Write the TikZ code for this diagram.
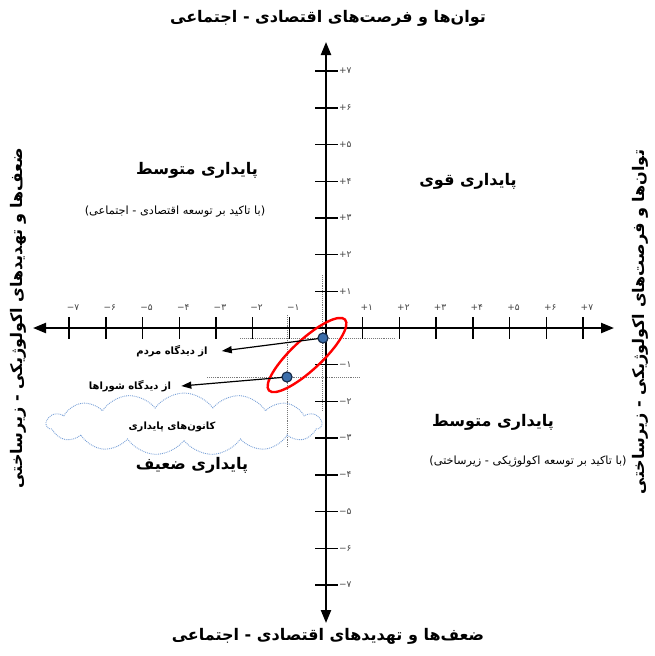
\documentclass[tikz,border=0pt]{standalone}
\usepackage{fontspec}
\usetikzlibrary{shapes.symbols,shapes.geometric,arrows.meta}
\TeXXeTstate=1
\newfontfamily\fa[Script=Arabic]{DejaVu Sans}
\newfontfamily\digitfont{DejaVu Sans}
\definecolor{ptblue}{RGB}{60,110,170}
\definecolor{ptdark}{RGB}{20,40,70}
\definecolor{cloudblue}{RGB}{120,160,215}
\definecolor{guide}{RGB}{120,120,120}
\begin{document}
\begin{tikzpicture}[x=1pt,y=-1pt,
  axis/.style={line width=2.2pt,{Triangle[length=13pt,width=10pt]}-{Triangle[length=13pt,width=10pt]}},
  tickline/.style={line width=1.4pt},
  ticklab/.style={font=\digitfont\fontsize{9}{10}\selectfont, text=black!75, inner sep=0pt},
  titlelab/.style={font=\fa\bfseries\fontsize{16}{18}\selectfont, inner sep=0pt},
  quadlab/.style={font=\fa\bfseries\fontsize{16}{18}\selectfont, inner sep=0pt},
  sublab/.style={font=\fa\fontsize{11.3}{13}\selectfont, inner sep=0pt},
  viewlab/.style={font=\fa\bfseries\fontsize{10}{12}\selectfont, inner sep=0pt},
  guideline/.style={densely dotted, draw=guide, line width=0.9pt},
  pt/.style={circle, fill=ptblue, draw=ptdark, line width=1pt, inner sep=0pt, minimum size=10pt},
  pointer/.style={line width=1.2pt, -{Triangle[length=10pt,width=7pt]}}
]
\useasboundingbox (0,0) rectangle (655,656);
\coordinate (O) at (326,328);
\coordinate (L) at (33,328);
\coordinate (R) at (614,328);
\coordinate (T) at (326,42);
\coordinate (B) at (326,623);
% guide lines
\draw[guideline] (240,338) -- (395,338);
\draw[guideline] (207,377) -- (360,377);
\draw[guideline] (322,275) -- (322,410);
\draw[guideline] (287,315) -- (287,447);
% cloud
\node[cloud, cloud puffs=15, cloud puff arc=110, aspect=4.2, draw=cloudblue, densely dotted, line width=0.9pt, minimum width=275pt, minimum height=62pt] (cloud) at (184,424) {};
\node[viewlab] (cloudtxt) at (172,427) {\beginR کانون‌های پایداری\endR};
% axes
\draw[axis] (L) -- (R);
\draw[axis] (B) -- (T);
% ticks
\foreach \i/\d in {1/۱,2/۲,3/۳,4/۴,5/۵,6/۶,7/۷}{
  \draw[tickline] ({326+\i*36.7},317) -- ({326+\i*36.7},339);
  \draw[tickline] ({326-\i*36.7},317) -- ({326-\i*36.7},339);
  \draw[tickline] (315,{328-\i*36.7}) -- (338,{328-\i*36.7});
  \draw[tickline] (315,{328+\i*36.7}) -- (338,{328+\i*36.7});
  \node[ticklab] (xp\i) at ({330+\i*36.7},308) {+\d};
  \node[ticklab] (xn\i) at ({330-\i*36.7},308) {−\d};
  \node[ticklab, anchor=west] (yp\i) at (339,{328-\i*36.7}) {+\d};
  \node[ticklab, anchor=west] (yn\i) at (339,{328+\i*36.7}) {−\d};
}
% titles
\node[titlelab] (top) at (328,18) {\beginR توان‌ها و فرصت‌های اقتصادی - اجتماعی\endR};
\node[titlelab] (bot) at (328,636) {\beginR ضعف‌ها و تهدیدهای اقتصادی - اجتماعی\endR};
\node[titlelab, rotate=90] (left) at (18,318) {\beginR ضعف‌ها و تهدیدهای اکولوژیکی - زیرساختی\endR};
\node[titlelab, rotate=90] (right) at (640,322) {\beginR توان‌ها و فرصت‌های اکولوژیکی - زیرساختی\endR};
% quadrant labels
\node[quadlab] (q2) at (197,170) {\beginR پایداری متوسط\endR};
\node[sublab] (q2s) at (175,212) {\beginR (با تاکید بر توسعه اقتصادی - اجتماعی)\endR};
\node[quadlab] (q1) at (468,181) {\beginR پایداری قوی\endR};
\node[quadlab] (q4) at (493,422) {\beginR پایداری متوسط\endR};
\node[sublab] (q4s) at (528,462) {\beginR (با تاکید بر توسعه اکولوژیکی - زیرساختی)\endR};
\node[quadlab] (q3) at (192,465) {\beginR پایداری ضعیف\endR};
% red ellipse
\node[ellipse, draw=red, line width=2.4pt, minimum width=104pt, minimum height=30pt, rotate=43] (ell) at (307,355) {};
% view labels
\node[viewlab] (vm) at (172,351) {\beginR از دیدگاه مردم\endR};
\node[viewlab] (vs) at (130,386) {\beginR از دیدگاه شوراها\endR};
% points and pointers
\node[pt] (p1) at (323,338) {};
\node[pt] (p2) at (287,377) {};
\draw[pointer] (p1.center) -- ([xshift=14pt]vm.east);
\draw[pointer] (p2.center) -- ([xshift=10pt]vs.east);
\node[pt] at (p1) {};
\node[pt] at (p2) {};
\end{tikzpicture}
\end{document}
